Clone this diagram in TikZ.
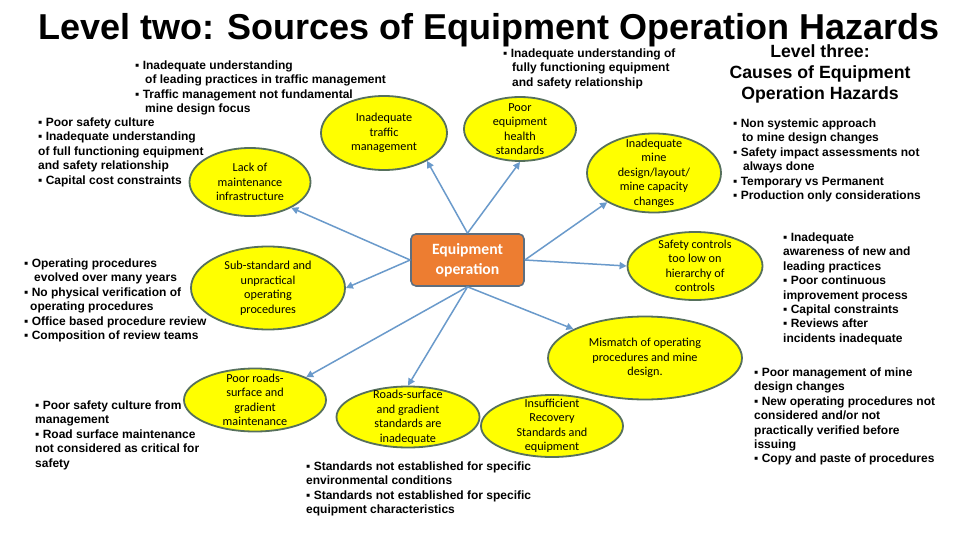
\documentclass[tikz,border=0pt]{standalone}
\usepackage{fontspec}
\setmainfont{Liberation Sans}
\newfontfamily\calfont{Carlito}
\usetikzlibrary{arrows.meta,shapes.geometric}
\definecolor{ellfill}{HTML}{FFFF00}
\definecolor{elldraw}{HTML}{56705C}
\definecolor{arrcol}{HTML}{6A9ACB}
\definecolor{orng}{HTML}{ED7D31}
\definecolor{boxdraw}{HTML}{5E6E7E}
\begin{document}
\begin{tikzpicture}[x=1pt,y=-1pt,
  hz/.style n args={2}{ellipse, draw=elldraw, line width=1.8pt, fill=ellfill, inner sep=0pt,
     minimum width=#1, minimum height=#2},
  etext/.style={align=center, inner sep=0pt, font=\calfont\fontsize{12.2}{14.5}\selectfont},
  body/.style={anchor=base west, align=left, inner sep=0pt, font=\fontsize{12}{14.4}\selectfont\bfseries},
  arrowst/.style={draw=arrcol, line width=1.5pt, -{Triangle[length=7pt,width=7pt]}},
  centerbox/.style={rectangle, rounded corners=5pt, fill=orng, draw=boxdraw, line width=1.6pt,
     minimum width=113pt, minimum height=52pt, align=center, text=white,
     font=\calfont\fontsize{15.7}{20}\selectfont\bfseries}
]
\useasboundingbox (0,0) rectangle (960,540);
\fill[white] (0,0) rectangle (960,540);

% title (base anchor of a multi-line node = last line's baseline)
\node[anchor=base, inner sep=0pt, font=\fontsize{36}{40}\selectfont\bfseries] (title) at (489,39.5)
  {Level two: Sources of Equipment Operation Hazards};
\node[anchor=base, align=center, inner sep=0pt, font=\fontsize{17.7}{21}\selectfont\bfseries] (lvl3) at (820,100)
  {Level three:\\Causes of Equipment\\Operation Hazards};

% centre
\node[centerbox] (eq) at (467.5,260) {Equipment\\operation};

% ellipses
\node[hz={126pt}{74pt}, label={[etext]center:{Inadequate\\traffic\\management}}] (traffic) at (384,133) {};
\node[hz={112pt}{64pt}, label={[etext]center:{Poor\\equipment\\health\\standards}}] (health) at (520,129) {};
\node[hz={121pt}{68pt}, label={[etext]center:{Lack of\\maintenance\\infrastructure}}] (lack) at (250,182) {};
\node[hz={134pt}{79pt}, label={[etext]center:{Inadequate\\mine\\design/layout/\\mine capacity\\changes}}] (minedes) at (654,173) {};
\node[hz={135pt}{68pt}, label={[etext]center:{Safety controls\\too low on\\hierarchy of\\controls}}] (safety) at (695,266) {};
\node[hz={154pt}{83pt}, label={[etext]center:{Sub-standard and\\unpractical\\operating\\procedures}}] (substd) at (268,288) {};
\node[hz={194pt}{83pt}, label={[etext]center:{Mismatch of operating\\procedures and mine\\design.}}] (mismatch) at (645,358) {};
\node[hz={142pt}{63pt}, label={[etext]center:{Poor roads-\\surface and\\gradient\\maintenance}}] (poorroads) at (255,400) {};
\node[hz={143pt}{61pt}, label={[etext]center:{Roads-surface\\and gradient\\standards are\\inadequate}}] (roadstd) at (408,417) {};
\node[hz={142pt}{62pt}, label={[etext]center:{Insufficient\\Recovery\\Standards and\\equipment}}] (recovery) at (552,426) {};

% connectors
\draw[arrowst] (eq.north) -- (traffic.-33);
\draw[arrowst] (eq.north) -- (health.-90);
\draw[arrowst] (eq.west) -- (lack.-32);
\draw[arrowst] (eq.east) -- (minedes.-148);
\draw[arrowst] (eq.east) -- (safety.180);
\draw[arrowst] (eq.west) -- (substd.0);
\draw[arrowst] (eq.south) -- (mismatch.158);
\draw[arrowst] (eq.south) -- (poorroads.24);
\draw[arrowst] (eq.south) -- (roadstd.90);

% text blocks (positions are the last line's baseline)
\node[body] (tA) at (135,112.7) {▪ Inadequate understanding\\
  \hspace*{10pt}of leading practices in traffic management\\
  ▪ Traffic management not fundamental\\
  \hspace*{10pt}mine design focus};
\node[body] (tB) at (38,184.1) {▪ Poor safety culture\\
  ▪ Inadequate understanding\\
  of full functioning equipment\\
  and safety relationship\\
  ▪ Capital cost constraints};
\node[body] (tC) at (503,86.3) {▪ Inadequate understanding of\\
  \hspace*{9pt}fully functioning equipment\\
  \hspace*{9pt}and safety relationship};
\node[body] (tD) at (733,199.5) {▪ Non systemic approach\\
  \hspace*{9pt}to mine design changes\\
  ▪ Safety impact assessments not\\
  \hspace*{10pt}always done\\
  ▪ Temporary vs Permanent\\
  ▪ Production only considerations};
\node[body] (tE) at (783,342.3) {▪ Inadequate\\
  awareness of new and\\
  leading practices\\
  ▪ Poor continuous\\
  improvement process\\
  ▪ Capital constraints\\
  ▪ Reviews after\\
  incidents inadequate};
\node[body] (tF) at (754,462.9) {▪ Poor management of mine\\
  design changes\\
  ▪ New operating procedures not\\
  considered and/or not\\
  practically verified before\\
  issuing\\
  ▪ Copy and paste of procedures};
\node[body] (tG) at (24,339.5) {▪ Operating procedures\\
  \hspace*{10pt}evolved over many years\\
  ▪ No physical verification of\\
  \hspace*{6pt}operating procedures\\
  ▪ Office based procedure review\\
  ▪ Composition of review teams};
\node[body] (tH) at (35,467.1) {▪ Poor safety culture from\\
  management\\
  ▪ Road surface maintenance\\
  not considered as critical for\\
  safety};
\node[body] (tI) at (306,513.7) {▪ Standards not established for specific\\
  environmental conditions\\
  ▪ Standards not established for specific\\
  equipment characteristics};
\end{tikzpicture}
\end{document}
